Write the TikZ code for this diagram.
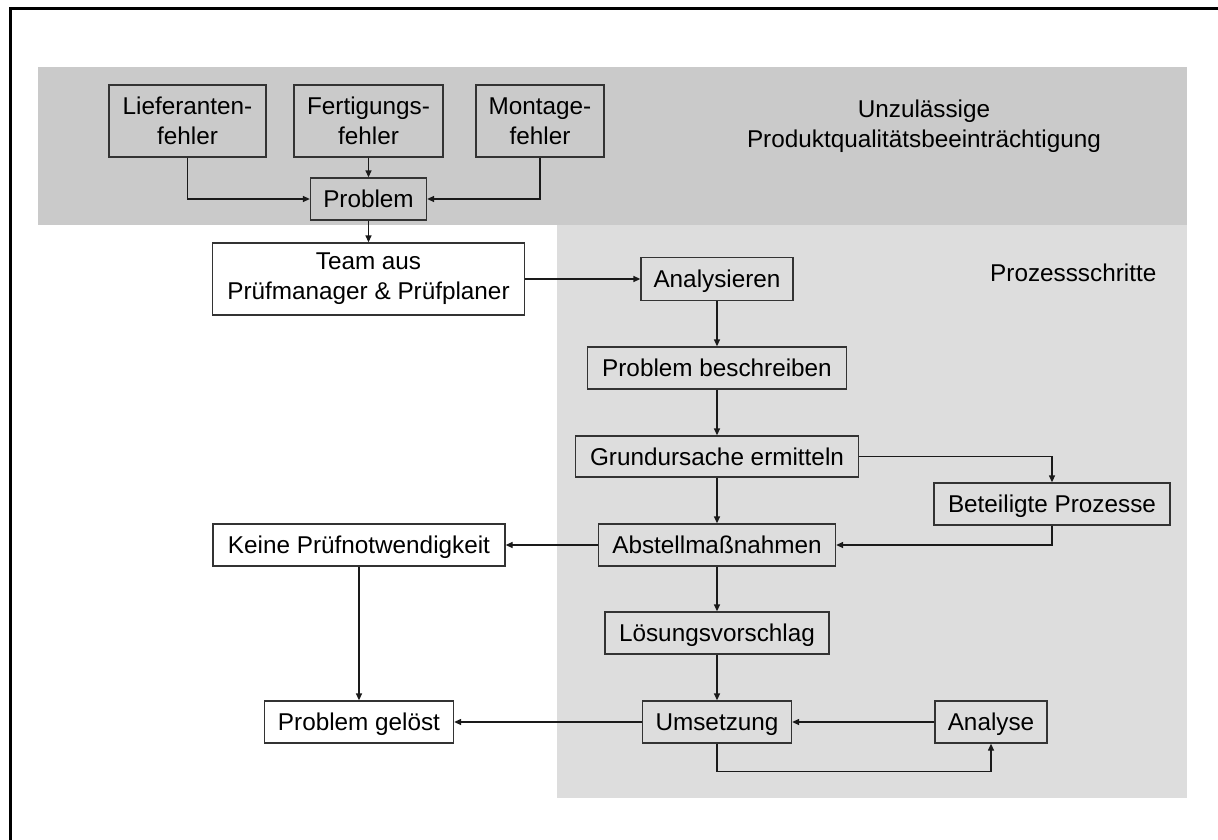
\documentclass[tikz,border=0pt]{standalone}
\usepackage{fontspec}
\setmainfont{Liberation Sans}
\usetikzlibrary{arrows.meta}
\definecolor{bandgray}{HTML}{CACACA}
\definecolor{regiongray}{HTML}{DDDDDD}
\definecolor{edgegray}{HTML}{333333}
\definecolor{linegray}{HTML}{1A1A1A}
\begin{document}
\begin{tikzpicture}[x=1pt,y=-1pt,
  font=\fontsize{24.3}{30}\selectfont,
  box/.style={draw=edgegray, line width=1.3pt, inner sep=0pt, anchor=center},
  one/.style={text height=17.4pt, text depth=0pt},
  two/.style={align=center},
  dark/.style={fill=bandgray},
  light/.style={fill=regiongray},
  plain/.style={fill=white},
  arr/.style={draw=linegray, line width=1.3pt, -{Triangle[length=7pt,width=6pt]}},
  frameline/.style={draw=black, line width=3pt},
]
\useasboundingbox (0,0) rectangle (1218,840);
\clip (0,0) rectangle (1218,840);
\fill[white] (0,0) rectangle (1218,840);
% background regions
\fill[bandgray] (38,67) rectangle (1187,225);
\fill[regiongray] (557,225) rectangle (1187,798);
% frame (right and bottom edges lie outside the picture)
\draw[frameline] (10.5,900) -- (10.5,8.5) -- (1300,8.5);

% top group
\node[box,dark,two,minimum width=157pt,minimum height=72pt] (lief) at (187.5,121) {Lieferanten-\\fehler};
\node[box,dark,two,minimum width=149pt,minimum height=72pt] (fert) at (368.5,121) {Fertigungs-\\fehler};
\node[box,dark,two,minimum width=128pt,minimum height=72pt] (mont) at (540,121) {Montage-\\fehler};
\node[box,dark,one,minimum width=116pt,minimum height=42pt] (prob) at (368.5,199) {Problem};
\node[inner sep=0pt,align=center,anchor=north] (unz) at (924,100) {Unzulässige\\Produktqualitätsbeeinträchtigung};

% team
\node[box,plain,two,minimum width=312pt,minimum height=72pt] (team) at (368.5,279) {Team aus\\Prüfmanager \& Prüfplaner};

% process steps
\node[inner sep=0pt,anchor=base west] (proz) at (990,281) {Prozessschritte};
\node[box,light,one,minimum width=152pt,minimum height=43pt] (anal) at (717,279) {Analysieren};
\node[box,light,one,minimum width=259pt,minimum height=42pt] (besch) at (717,368) {Problem beschreiben};
\node[box,light,one,minimum width=283pt,minimum height=41pt] (grund) at (717,456.5) {Grundursache ermitteln};
\node[box,light,one,minimum width=236pt,minimum height=42pt] (betei) at (1052,504) {Beteiligte Prozesse};
\node[box,light,one,minimum width=237pt,minimum height=42pt] (abst) at (717,545) {Abstellmaßnahmen};
\node[box,light,one,minimum width=224pt,minimum height=42pt] (loes) at (717,633) {Lösungsvorschlag};
\node[box,light,one,minimum width=149pt,minimum height=42pt] (umse) at (717,722) {Umsetzung};
\node[box,light,one,minimum width=112pt,minimum height=42pt] (analy) at (991,722) {Analyse};

% left column
\node[box,plain,one,minimum width=292pt,minimum height=42pt] (keine) at (359,545) {Keine Prüfnotwendigkeit};
\node[box,plain,one,minimum width=189pt,minimum height=42pt] (geloest) at (359,722) {Problem gelöst};

% connectors
\draw[arr] (lief.south) |- (prob.west);
\draw[arr] (fert.south) -- (prob.north);
\draw[arr] (mont.south) |- (prob.east);
\draw[arr] (prob.south) -- (team.north);
\draw[arr] (team.east) -- (anal.west);
\draw[arr] (anal.south) -- (besch.north);
\draw[arr] (besch.south) -- (grund.north);
\draw[arr] (grund.south) -- (abst.north);
\draw[arr] (grund.east) -| (betei.north);
\draw[arr] (betei.south) |- (abst.east);
\draw[arr] (abst.west) -- (keine.east);
\draw[arr] (abst.south) -- (loes.north);
\draw[arr] (loes.south) -- (umse.north);
\draw[arr] (keine.south) -- (geloest.north);
\draw[arr] (umse.west) -- (geloest.east);
\draw[arr] (analy.west) -- (umse.east);
\draw[arr] (umse.south) -- ++(0,28) -| (analy.south);
\end{tikzpicture}
\end{document}
